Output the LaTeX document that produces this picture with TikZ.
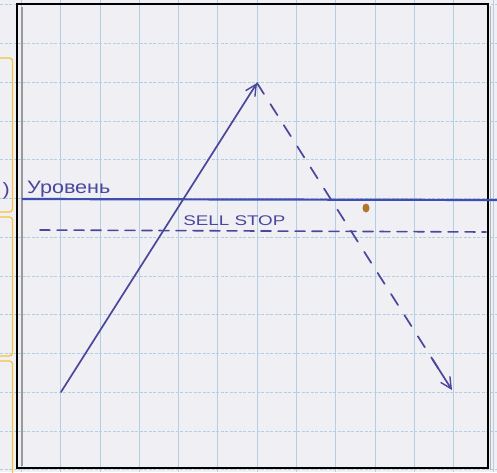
\documentclass[tikz,border=0pt]{standalone}
\usepackage{fontspec}
\setmainfont{Liberation Sans}
\usetikzlibrary{arrows.meta,calc}
\definecolor{paper}{HTML}{F0EFF3}
\definecolor{gridblue}{HTML}{B3CFE4}
\definecolor{ink}{HTML}{4A479C}
\definecolor{levelblue}{HTML}{3E4DB0}
\definecolor{marker}{HTML}{F3C440}
\definecolor{stain}{HTML}{B0762E}
\tikzset{
  penline/.style={draw=ink, line width=1.7pt, line cap=round},
  arrowtip/.style={-{Straight Barb[length=11pt,width=11pt,line width=1.4pt]}},
  dashpen/.style={penline, dash pattern=on 13pt off 12pt},
  vgrid/.style={draw=gridblue, line width=0.9pt},
  hgrid/.style={draw=gridblue, line width=0.9pt, dash pattern=on 3pt off 1.5pt},
  yellowbox/.style={draw=marker, line width=1.3pt, rounded corners=3pt},
  handtext/.style={text=ink, font=\fontsize{18pt}{18pt}\selectfont, inner sep=0pt, xscale=1.2},
}
\begin{document}
\begin{tikzpicture}[x=1pt,y=-1pt]
\useasboundingbox (0,0) rectangle (497,472);
\fill[paper] (0,0) rectangle (497,472);
% grid
\foreach \k in {-1,...,11} {
  \draw[vgrid] ({60.7+39.3*\k},0) -- ({60.7+39.3*\k},472);
  \draw[hgrid] (0,{43.5+38.75*\k}) -- (497,{43.5+38.75*\k});
}
% yellow boxes at the left edge
\draw[yellowbox] (-10,58) -- (12.5,58) -- (12.5,212) -- (-10,212);
\draw[yellowbox] (-10,217) -- (12.5,217) -- (12.5,356) -- (-10,356);
\draw[yellowbox] (-10,361) -- (12.5,361) -- (12.5,480);
\node[handtext, anchor=base east] (paren) at (10,195) {)};
% frame
\draw[gray!80, line width=2pt] (21.5,7) -- (21.5,466);
\draw[gray!60, line width=1.2pt] (490.5,6) -- (490.5,470);
\draw[black, line width=2.2pt] (16.8,3.8) rectangle (487.6,468.2);
% level line and sell stop line
\coordinate (lvlL) at (22,199);
\coordinate (lvlR) at (497,200);
\draw[levelblue, line width=2.2pt] (lvlL) -- (lvlR);
\coordinate (ssL) at (40,230);
\coordinate (ssR) at (486,232);
\draw[penline, line width=1.6pt, dash pattern=on 10pt off 7pt] (ssL) -- (ssR);
\node[handtext, anchor=base west] (level) at (27,193) {Уровень};
\node[handtext, font=\fontsize{14pt}{14pt}\selectfont, xscale=1.12, anchor=base west] (sellstop) at (183,225) {SELL STOP};
% stain
\fill[stain] (366,208) ellipse (3.5pt and 4.5pt);
% price path
\coordinate (start) at (61,392);
\coordinate (peak) at (257,83);
\coordinate (finish) at (452,390);
\draw[penline, arrowtip] (start) -- (peak);
\draw[dashpen] (peak) -- ($(peak)!0.93!(finish)$);
\draw[penline, arrowtip] ($(peak)!0.9!(finish)$) -- (finish);
\end{tikzpicture}
\end{document}
